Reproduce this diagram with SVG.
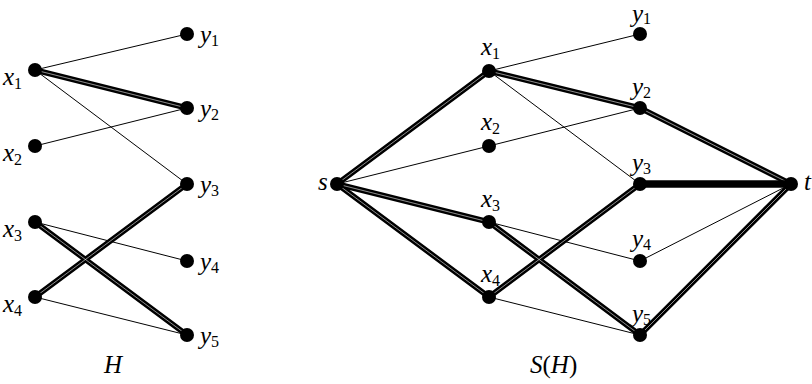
<svg xmlns="http://www.w3.org/2000/svg" width="812" height="384" viewBox="0 0 812 384">
<style>
.thin{stroke:#000;stroke-width:1;fill:none}
.thick{stroke:#000;stroke-width:5.5;fill:none;stroke-linecap:round}
.core{stroke:#fff;stroke-width:0.8;stroke-opacity:0.7;fill:none}
.solid{stroke:#000;stroke-width:7.5;fill:none}
.node{fill:#000}
.lbl{font-family:"Liberation Serif","DejaVu Serif",serif;font-style:italic;font-size:25px;fill:#000}
.sub{font-style:normal;font-size:16px}
</style>
<rect width="812" height="384" fill="#fff"/>
<g id="connectors">
  <line class="thin" x1="35" y1="70" x2="187" y2="34"/>
  <line class="thin" x1="35" y1="70" x2="187" y2="184"/>
  <line class="thin" x1="35" y1="146" x2="187" y2="108"/>
  <line class="thin" x1="35" y1="222" x2="187" y2="261"/>
  <line class="thin" x1="35" y1="297" x2="187" y2="335"/>
  <line class="thick" x1="35" y1="70" x2="187" y2="108"/>
  <line class="thick" x1="35" y1="222" x2="187" y2="335"/>
  <line class="thick" x1="35" y1="297" x2="187" y2="184"/>
  <line class="core" x1="35" y1="70" x2="187" y2="108"/>
  <line class="core" x1="35" y1="222" x2="187" y2="335"/>
  <line class="core" x1="35" y1="297" x2="187" y2="184"/>
  <line class="thin" x1="337" y1="184" x2="489" y2="146"/>
  <line class="thin" x1="489" y1="71" x2="640" y2="34"/>
  <line class="thin" x1="489" y1="71" x2="640" y2="184"/>
  <line class="thin" x1="489" y1="146" x2="640" y2="108"/>
  <line class="thin" x1="489" y1="222" x2="640" y2="261"/>
  <line class="thin" x1="489" y1="297" x2="640" y2="335"/>
  <line class="thin" x1="640" y1="261" x2="791" y2="184"/>
  <line class="thick" x1="337" y1="184" x2="489" y2="71"/>
  <line class="thick" x1="337" y1="184" x2="489" y2="222"/>
  <line class="thick" x1="337" y1="184" x2="489" y2="297"/>
  <line class="thick" x1="489" y1="71" x2="640" y2="108"/>
  <line class="thick" x1="489" y1="222" x2="640" y2="335"/>
  <line class="thick" x1="489" y1="297" x2="640" y2="184"/>
  <line class="thick" x1="640" y1="108" x2="791" y2="184"/>
  <line class="thick" x1="640" y1="335" x2="791" y2="184"/>
  <line class="core" x1="337" y1="184" x2="489" y2="71"/>
  <line class="core" x1="337" y1="184" x2="489" y2="222"/>
  <line class="core" x1="337" y1="184" x2="489" y2="297"/>
  <line class="core" x1="489" y1="71" x2="640" y2="108"/>
  <line class="core" x1="489" y1="222" x2="640" y2="335"/>
  <line class="core" x1="489" y1="297" x2="640" y2="184"/>
  <line class="core" x1="640" y1="108" x2="791" y2="184"/>
  <line class="core" x1="640" y1="335" x2="791" y2="184"/>
  <line class="solid" x1="640" y1="184" x2="791" y2="184"/>
</g>
<g id="H-x1"><circle class="node" cx="35" cy="70" r="7"/><text class="lbl" x="3" y="85">x<tspan class="sub" dy="4">1</tspan></text></g>
<g id="H-x2"><circle class="node" cx="35" cy="146" r="7"/><text class="lbl" x="3" y="161">x<tspan class="sub" dy="4">2</tspan></text></g>
<g id="H-x3"><circle class="node" cx="35" cy="222" r="7"/><text class="lbl" x="3" y="237">x<tspan class="sub" dy="4">3</tspan></text></g>
<g id="H-x4"><circle class="node" cx="35" cy="297" r="7"/><text class="lbl" x="3" y="312">x<tspan class="sub" dy="4">4</tspan></text></g>
<g id="H-y1"><circle class="node" cx="187" cy="34" r="7"/><text class="lbl" x="200" y="43">y<tspan class="sub" dy="3">1</tspan></text></g>
<g id="H-y2"><circle class="node" cx="187" cy="108" r="7"/><text class="lbl" x="200" y="117">y<tspan class="sub" dy="3">2</tspan></text></g>
<g id="H-y3"><circle class="node" cx="187" cy="184" r="7"/><text class="lbl" x="200" y="193">y<tspan class="sub" dy="3">3</tspan></text></g>
<g id="H-y4"><circle class="node" cx="187" cy="261" r="7"/><text class="lbl" x="200" y="270">y<tspan class="sub" dy="3">4</tspan></text></g>
<g id="H-y5"><circle class="node" cx="187" cy="335" r="7"/><text class="lbl" x="200" y="344">y<tspan class="sub" dy="3">5</tspan></text></g>
<g id="H-label"><text class="lbl" x="104" y="373">H</text></g>
<g id="S-s"><circle class="node" cx="337" cy="184" r="7"/><text class="lbl" x="318" y="190">s</text></g>
<g id="S-x1"><circle class="node" cx="489" cy="71" r="7"/><text class="lbl" x="481" y="55">x<tspan class="sub" dy="4">1</tspan></text></g>
<g id="S-x2"><circle class="node" cx="489" cy="146" r="7"/><text class="lbl" x="481" y="130">x<tspan class="sub" dy="4">2</tspan></text></g>
<g id="S-x3"><circle class="node" cx="489" cy="222" r="7"/><text class="lbl" x="481" y="207">x<tspan class="sub" dy="4">3</tspan></text></g>
<g id="S-x4"><circle class="node" cx="489" cy="297" r="7"/><text class="lbl" x="481" y="282">x<tspan class="sub" dy="4">4</tspan></text></g>
<g id="S-y1"><circle class="node" cx="640" cy="34" r="7"/><text class="lbl" x="632" y="22">y<tspan class="sub" dy="2">1</tspan></text></g>
<g id="S-y2"><circle class="node" cx="640" cy="108" r="7"/><text class="lbl" x="632" y="95">y<tspan class="sub" dy="3">2</tspan></text></g>
<g id="S-y3"><circle class="node" cx="640" cy="184" r="7"/><text class="lbl" x="632" y="171">y<tspan class="sub" dy="3">3</tspan></text></g>
<g id="S-y4"><circle class="node" cx="640" cy="261" r="7"/><text class="lbl" x="632" y="247">y<tspan class="sub" dy="3">4</tspan></text></g>
<g id="S-y5"><circle class="node" cx="640" cy="335" r="7"/><text class="lbl" x="632" y="322">y<tspan class="sub" dy="3">5</tspan></text></g>
<g id="S-t"><circle class="node" cx="791" cy="184" r="7"/><text class="lbl" x="804" y="190">t</text></g>
<g id="S-label"><text class="lbl" x="530" y="373">S<tspan font-style="normal">(</tspan>H<tspan font-style="normal">)</tspan></text></g>
</svg>
